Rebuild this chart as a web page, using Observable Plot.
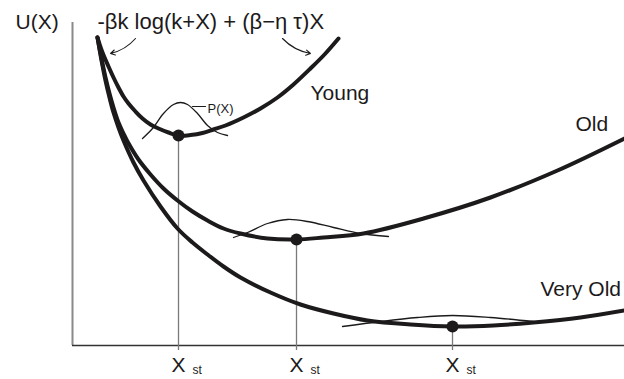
<!DOCTYPE html>
<html><head><meta charset="utf-8">
<script src="https://cdn.jsdelivr.net/npm/d3@7"></script>
<script src="https://cdn.jsdelivr.net/npm/@observablehq/plot@0.6"></script>
<style>body{margin:0;background:#fff} svg{display:block}</style>
</head><body><div id="chart"></div>
<script>
// Potential curves U(X) (arbitrary units, X: 0–11.04, U: 0–6.46)
const youngX = [0.50, 0.60, 0.72, 0.82, 0.92, 1.02, 1.12, 1.26, 1.40, 1.56, 1.72, 1.92, 2.12, 2.36, 2.60, 2.82, 3.06, 3.42, 3.76, 4.10, 4.42, 4.76, 5.04, 5.32];
const youngU = [6.16, 5.86, 5.58, 5.36, 5.16, 4.98, 4.84, 4.68, 4.54, 4.42, 4.34, 4.26, 4.20, 4.21, 4.25, 4.32, 4.40, 4.56, 4.74, 4.96, 5.22, 5.54, 5.82, 6.14];
const oldX = [0.50, 0.58, 0.66, 0.74, 0.82, 0.92, 1.02, 1.10, 1.32, 1.56, 1.82, 2.10, 2.40, 2.70, 3.02, 3.36, 3.90, 4.48, 5.02, 5.82, 7.02, 8.36, 9.70, 11.04];
const oldU = [6.16, 5.74, 5.36, 5.04, 4.76, 4.46, 4.24, 4.08, 3.72, 3.42, 3.14, 2.90, 2.68, 2.50, 2.34, 2.24, 2.14, 2.12, 2.16, 2.24, 2.54, 2.96, 3.50, 4.14];
const veryOldX = [0.50, 0.58, 0.66, 0.74, 0.82, 0.92, 1.02, 1.22, 1.42, 1.76, 2.10, 2.40, 2.70, 3.02, 3.36, 3.96, 4.56, 5.22, 5.90, 6.76, 7.60, 8.42, 9.22, 10.16, 11.04];
const veryOldU = [6.16, 5.70, 5.30, 4.96, 4.66, 4.36, 4.10, 3.66, 3.30, 2.78, 2.34, 2.06, 1.82, 1.58, 1.36, 1.06, 0.82, 0.64, 0.50, 0.42, 0.38, 0.40, 0.46, 0.56, 0.70];

// P(X) distributions around each minimum
const pYoungX = [1.40, 1.60, 1.82, 2.02, 2.16, 2.30, 2.50, 2.70, 2.90, 3.10];
const pYoungU = [4.14, 4.34, 4.64, 4.82, 4.86, 4.82, 4.64, 4.40, 4.26, 4.20];
const pOldX = [3.22, 3.50, 3.90, 4.30, 4.70, 5.22, 5.76, 6.32];
const pOldU = [2.16, 2.26, 2.44, 2.52, 2.48, 2.36, 2.24, 2.18];
const pVeryOldX = [5.40, 6.16, 6.90, 7.60, 8.36, 9.22];
const pVeryOldU = [0.38, 0.48, 0.56, 0.60, 0.56, 0.48];

// Stationary points X_st
const xstX = [2.12, 4.48, 7.60];
const xstU = [4.20, 2.12, 0.38];
const stemBottomU = -0.10;
const xstMain = "X", xstSub = "st";
const xstMainU = -0.52, xstSubU = -0.56;

// Labels
const curveNames = ["Young", "Old", "Very Old"];
const curveLabelX = [4.76, 10.06, 9.36];
const curveLabelU = [4.92, 4.30, 1.00];
const headerTexts = ["U(X)", "-βk log(k+X) + (β−η τ)X"];
const headerX = [-1.14, 0.50];
const headerU = [6.34, 6.34];
const headerSize = [21, 22];
const arrowX1 = [1.26, 4.20], arrowU1 = [6.14, 6.14];
const arrowX2 = [0.76, 4.76], arrowU2 = [5.84, 5.84];
const pLabel = "P(X)";
const pLeaderX = [2.40, 2.66], pLeaderU = [4.78, 4.78];
const pLabelX = 2.70, pLabelU = 4.66;

const toRows = (xs, us, name) => xs.map((x, i) => ({x, u: us[i], name}));
const curves = [
  ...toRows(youngX, youngU, "Young"),
  ...toRows(oldX, oldU, "Old"),
  ...toRows(veryOldX, veryOldU, "Very Old")
];
const bumps = [
  ...toRows(pYoungX, pYoungU, "Young"),
  ...toRows(pOldX, pOldU, "Old"),
  ...toRows(pVeryOldX, pVeryOldU, "Very Old")
];
const xst = xstX.map((x, i) => ({x, u: xstU[i]}));
const arrows = arrowX1.map((x, i) => ({x1: x, y1: arrowU1[i], x2: arrowX2[i], y2: arrowU2[i]}));
const headers = headerTexts.map((t, i) => ({t, x: headerX[i], u: headerU[i], s: headerSize[i]}));

const ink = "#1c1a1b";
const font = "Arial, 'Liberation Sans', Helvetica, sans-serif";

const chart = Plot.plot({
  width: 624, height: 379,
  marginLeft: 72, marginRight: 0, marginTop: 22, marginBottom: 34,
  x: {domain: [0, 11.04], axis: null},
  y: {domain: [0, 6.46], axis: null},
  style: {fontFamily: font, background: "#fff", overflow: "visible"},
  marks: [
    Plot.ruleX([0], {stroke: "#8a8a8a", strokeWidth: 2}),
    Plot.ruleY([0], {stroke: "#333", strokeWidth: 1.3}),
    Plot.ruleX(xst, {x: "x", y1: stemBottomU, y2: "u", stroke: "#7a7a7a", strokeWidth: 1.3}),
    Plot.line(bumps, {x: "x", y: "u", z: "name", stroke: ink, strokeWidth: 1.3, curve: "catmull-rom"}),
    Plot.line(curves, {x: "x", y: "u", z: "name", stroke: ink, strokeWidth: 4, curve: "catmull-rom"}),
    Plot.dot(xst, {x: "x", y: "u", r: 6, fill: ink}),
    Plot.line(pLeaderX.map((x, i) => ({x, u: pLeaderU[i]})), {x: "x", y: "u", stroke: ink, strokeWidth: 1.2}),
    Plot.text([pLabel], {x: pLabelX, y: pLabelU, text: d => d, textAnchor: "start", lineAnchor: "bottom", fontSize: 13, fill: ink}),
    Plot.arrow(arrows.slice(0, 1), {x1: "x1", y1: "y1", x2: "x2", y2: "y2", bend: 18, stroke: ink, strokeWidth: 1.1, headLength: 7}),
    Plot.arrow(arrows.slice(1), {x1: "x1", y1: "y1", x2: "x2", y2: "y2", bend: -18, stroke: ink, strokeWidth: 1.1, headLength: 7}),
    Plot.text(curveNames, {x: (d, i) => curveLabelX[i], y: (d, i) => curveLabelU[i], text: d => d, textAnchor: "start", lineAnchor: "bottom", fontSize: 21, fill: ink}),
    Plot.text(headers.slice(0, 1), {x: "x", y: "u", text: "t", textAnchor: "start", lineAnchor: "bottom", fontSize: headers[0].s, fill: ink}),
    Plot.text(headers.slice(1), {x: "x", y: "u", text: "t", textAnchor: "start", lineAnchor: "bottom", fontSize: headers[1].s, fill: ink}),
    Plot.text(xst, {x: "x", y: xstMainU, text: () => xstMain, textAnchor: "middle", lineAnchor: "bottom", fontSize: 21, fill: ink}),
    Plot.text(xst, {x: "x", y: xstSubU, dx: 14, text: () => xstSub, textAnchor: "start", lineAnchor: "bottom", fontSize: 12, fill: ink})
  ]
});
document.getElementById("chart").appendChild(chart);
</script>
</body></html>
